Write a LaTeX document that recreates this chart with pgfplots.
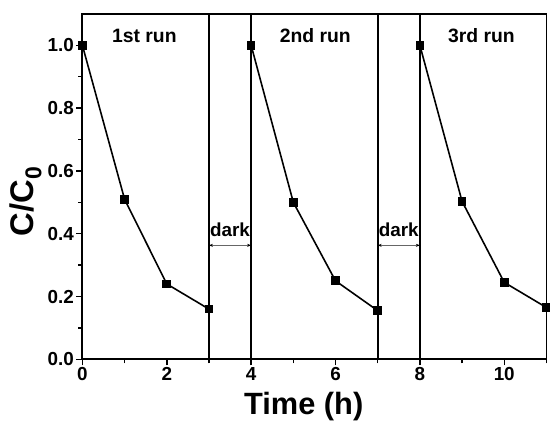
\documentclass[border=0pt]{standalone}
\usepackage{fontspec}
\setmainfont{Liberation Sans}
\usepackage{pgfplots}
\pgfplotsset{compat=1.18}
\usetikzlibrary{arrows.meta}

\begin{document}
\begin{tikzpicture}
\begin{axis}[
  name=main,
  scale only axis,
  width=467.5pt,
  height=348pt,
  xmin=0, xmax=11,
  ymin=0, ymax=1.1,
  axis line style={line width=1.8pt},
  xtick={0,2,4,6,8,10},
  minor xtick={1,3,5,7,9,11},
  ytick={0,0.2,0.4,0.6,0.8,1.0},
  minor ytick={0.1,0.3,0.5,0.7,0.9},
  tick align=outside,
  xtick pos=bottom,
  ytick pos=left,
  major tick length=6pt,
  minor tick length=4pt,
  every tick/.style={black, line width=1.5pt},
  /pgf/number format/assume math mode=true,
  yticklabel style={/pgf/number format/fixed, /pgf/number format/fixed zerofill, /pgf/number format/precision=1, xshift=1pt},
  xticklabel style={yshift=1pt},
  ticklabel style={font=\fontsize{19}{19}\selectfont\bfseries},
  xlabel={Time (h)},
  ylabel={C/C\textsubscript{0}},
  xlabel style={font=\fontsize{31}{31}\selectfont\bfseries, at={(axis description cs:0.477,0)}, anchor=center, yshift=-48pt},
  ylabel style={font=\fontsize{33}{33}\selectfont\bfseries, at={(axis description cs:0,0.457)}, anchor=center, yshift=57pt},
  clip=false,
]
% run 1
\addplot[black, line width=1.6pt, mark=square*, mark size=3.6pt] coordinates {
  (0,1.0) (1,0.51) (2,0.24) (3,0.16)
};
% run 2
\addplot[black, line width=1.6pt, mark=square*, mark size=3.6pt] coordinates {
  (4,1.0) (5,0.50) (6,0.25) (7,0.155)
};
% run 3
\addplot[black, line width=1.6pt, mark=square*, mark size=3.6pt] coordinates {
  (8,1.0) (9,0.503) (10,0.245) (11,0.165)
};
% separators
\addplot[black, line width=2pt] coordinates {(3,0) (3,1.1)};
\addplot[black, line width=2pt] coordinates {(4,0) (4,1.1)};
\addplot[black, line width=2pt] coordinates {(7,0) (7,1.1)};
\addplot[black, line width=2pt] coordinates {(8,0) (8,1.1)};
\addplot[gray!80!black, line width=0.7pt, {Stealth[length=4pt,black]}-{Stealth[length=4pt,black]}] coordinates {(3,0.363) (4,0.363)};
\addplot[gray!80!black, line width=0.7pt, {Stealth[length=4pt,black]}-{Stealth[length=4pt,black]}] coordinates {(7,0.363) (8,0.363)};
\node[font=\fontsize{19}{19}\selectfont\bfseries] at (axis cs:3.5,0.413) {dark};
\node[font=\fontsize{19}{19}\selectfont\bfseries] at (axis cs:7.5,0.413) {dark};
\node[font=\fontsize{19.5}{19.5}\selectfont\bfseries] at (axis cs:1.47,1.03) {1st run};
\node[font=\fontsize{19.5}{19.5}\selectfont\bfseries] at (axis cs:5.52,1.03) {2nd run};
\node[font=\fontsize{19.5}{19.5}\selectfont\bfseries] at (axis cs:9.46,1.03) {3rd run};
\end{axis}
\path ([yshift=14pt]main.north west) ([xshift=-83pt]main.south west) ([yshift=-64pt]main.south west);
\end{tikzpicture}
\end{document}
